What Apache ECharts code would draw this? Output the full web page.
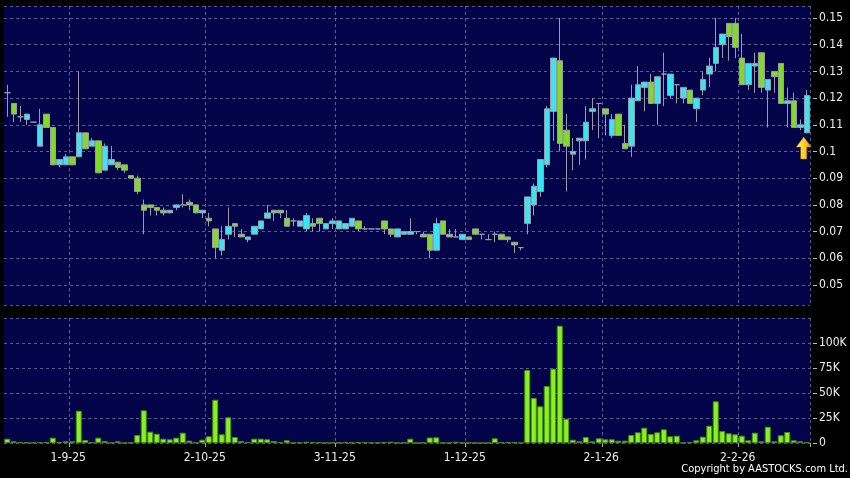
<!DOCTYPE html>
<html>
<head>
<meta charset="utf-8">
<script src="https://cdn.jsdelivr.net/npm/echarts@6/dist/echarts.min.js"></script>
<style>
  html, body { margin: 0; padding: 0; background: #000; }
  #chart { width: 850px; height: 478px; }
</style>
</head>
<body>
<div id="chart"></div>
<script>
// trading days, d-m-yy
const dates = [
  "18-8-25","19-8-25","20-8-25","21-8-25","22-8-25","25-8-25","26-8-25","27-8-25","28-8-25","29-8-25",
  "1-9-25","2-9-25","3-9-25","4-9-25","5-9-25","8-9-25","9-9-25","10-9-25","11-9-25","12-9-25",
  "15-9-25","16-9-25","17-9-25","18-9-25","19-9-25","22-9-25","23-9-25","25-9-25","26-9-25","29-9-25","30-9-25",
  "2-10-25","3-10-25","6-10-25","8-10-25","9-10-25","10-10-25","13-10-25","14-10-25","15-10-25","16-10-25",
  "17-10-25","20-10-25","21-10-25","22-10-25","23-10-25","24-10-25","27-10-25","28-10-25","30-10-25","31-10-25",
  "3-11-25","4-11-25","5-11-25","6-11-25","7-11-25","10-11-25","11-11-25","12-11-25","13-11-25","14-11-25",
  "17-11-25","18-11-25","19-11-25","20-11-25","21-11-25","24-11-25","25-11-25","26-11-25","27-11-25","28-11-25",
  "1-12-25","2-12-25","3-12-25","4-12-25","5-12-25","8-12-25","9-12-25","10-12-25","11-12-25","12-12-25",
  "15-12-25","16-12-25","17-12-25","18-12-25","19-12-25","22-12-25","23-12-25","24-12-25","29-12-25","30-12-25","31-12-25",
  "2-1-26","5-1-26","6-1-26","7-1-26","8-1-26","9-1-26","12-1-26","13-1-26","14-1-26","15-1-26",
  "16-1-26","19-1-26","20-1-26","21-1-26","22-1-26","23-1-26","26-1-26","27-1-26","28-1-26","29-1-26","30-1-26",
  "2-2-26","3-2-26","4-2-26","5-2-26","6-2-26","9-2-26","10-2-26","11-2-26","12-2-26","13-2-26","16-2-26"
];

const opens = [
  .122,.118,.113,.112,.111,.102,.114,.109,.095,.095,
  .098,.098,.107,.102,.104,.093,.095,.096,.095,.091,
  .090,.080,.080,.079,.078,.077,.079,.080,.081,.080,
  .077,.075,.071,.063,.069,.073,.069,.067,.069,.071,
  .075,.078,.078,.075,.074,.072,.071,.073,.075,.071,
  .073,.071,.071,.072,.074,.071,.071,.071,.074,.071,
  .068,.069,.069,.070,.069,.069,.063,.074,.069,.068,
  .067,.068,.071,.069,.067,.069,.069,.068,.066,.064,
  .073,.080,.085,.095,.115,.134,.108,.099,.104,.104,
  .115,.118,.116,.106,.114,.103,.102,.119,.124,.126,
  .118,.129,.121,.125,.120,.123,.116,.123,.129,.133,
  .140,.148,.148,.135,.125,.132,.137,.123,.130,.133,
  .118,.119,.109,.107
];
const closes = [
  .122,.114,.113,.114,.111,.110,.109,.095,.097,.098,
  .095,.107,.101,.104,.092,.102,.097,.094,.093,.090,
  .085,.078,.079,.078,.077,.078,.080,.080,.080,.077,
  .078,.074,.064,.067,.072,.072,.068,.068,.072,.074,
  .077,.077,.077,.072,.074,.074,.076,.072,.073,.073,
  .074,.074,.073,.075,.071,.071,.071,.071,.071,.069,
  .071,.070,.070,.070,.068,.063,.073,.069,.068,.068,
  .069,.067,.069,.069,.067,.069,.067,.067,.065,.064,
  .083,.087,.097,.116,.135,.103,.102,.100,.105,.111,
  .116,.118,.114,.112,.106,.101,.120,.125,.126,.118,
  .128,.129,.129,.125,.124,.118,.120,.127,.132,.139,
  .144,.143,.139,.125,.133,.133,.124,.127,.128,.118,
  .119,.109,.110,.121
];
const highs = [
  .125,.118,.117,.114,.111,.116,.114,.109,.097,.099,
  .098,.130,.107,.105,.104,.103,.102,.096,.095,.091,
  .091,.082,.080,.079,.079,.078,.080,.084,.082,.080,
  .078,.077,.071,.072,.079,.073,.071,.068,.072,.074,
  .080,.078,.078,.078,.075,.074,.077,.075,.075,.073,
  .075,.074,.073,.075,.074,.072,.071,.071,.074,.071,
  .071,.070,.075,.070,.070,.069,.075,.074,.071,.071,
  .069,.068,.071,.069,.069,.070,.069,.068,.066,.064,
  .083,.088,.097,.117,.135,.150,.114,.105,.105,.117,
  .120,.118,.116,.114,.114,.110,.125,.132,.126,.129,
  .128,.137,.129,.125,.124,.123,.120,.130,.135,.150,
  .144,.148,.150,.144,.133,.137,.137,.127,.130,.133,
  .124,.122,.112,.123
];
const lows = [
  .113,.111,.111,.110,.111,.102,.109,.095,.094,.095,
  .095,.098,.101,.102,.092,.093,.095,.093,.092,.090,
  .084,.069,.076,.076,.076,.077,.078,.079,.078,.077,
  .075,.072,.060,.061,.067,.068,.068,.066,.069,.071,
  .075,.074,.075,.072,.072,.072,.070,.070,.070,.071,
  .071,.071,.071,.072,.070,.071,.071,.071,.069,.068,
  .068,.069,.069,.069,.068,.060,.063,.069,.068,.068,
  .067,.067,.069,.067,.067,.066,.067,.066,.062,.063,
  .069,.076,.083,.094,.104,.100,.085,.093,.095,.097,
  .108,.105,.106,.105,.106,.101,.098,.119,.115,.118,
  .110,.117,.120,.118,.118,.118,.111,.121,.124,.130,
  .135,.134,.135,.125,.123,.122,.122,.109,.122,.118,
  .109,.109,.108,.107
];
// volume in thousands of shares
const volumesK = [
  4.3,1.7,0.7,0.3,0.3,0.7,0.7,5.3,0.7,1.7,
  1.7,32.3,3,0.7,5.3,2,0.3,1.7,0.1,0.3,
  8,32.7,11.3,9.3,4.3,3.7,5.3,10.3,2.3,0.3,
  3.3,6.7,43.3,8.7,25.7,6,2,1,4.3,4.3,
  3.7,2,1,2.7,0.1,0.3,1.3,0.7,0.7,0.3,
  0.3,0.2,0.7,0.3,0.7,0.7,0.3,0.3,0.7,1.3,
  0.1,0.3,4.3,0.1,0.3,5.5,5.7,0.1,0.1,1.3,
  0.1,0.3,0.1,0.1,0.1,4.7,0.7,0.7,0.7,0.1,
  73,45,36.7,57,74.3,117.3,24.3,3.3,1.7,6,
  1.7,4.7,3.7,3.7,2.3,2.3,8,10.7,15.3,9,
  10.7,13.7,6.7,7.3,0.1,0.7,2.7,6.3,17.3,41.7,
  12,9.7,8.7,7.3,2.7,10.3,1.7,16.3,1.7,7.7,
  11,2.7,1.7,0.7
];
const arrowPrice = 0.1013; // yellow marker under the last candle

var candles = dates.map(function (d, i) {
  return [opens[i], closes[i], lows[i], highs[i]];
});

// first trading day of each month gets a grid line and a label
function monthStart(i) {
  return i > 0 && dates[i].split("-")[1] !== dates[i - 1].split("-")[1];
}

var font = "'DejaVu Sans Condensed', 'DejaVu Sans', sans-serif";
var dash = { color: "rgba(150,150,200,0.6)", type: [3, 3], width: 1 };
var gridV = { show: true, interval: monthStart, lineStyle: dash };

var chart = echarts.init(document.getElementById("chart"));
chart.setOption({
  backgroundColor: "#000",
  animation: false,
  title: {
    text: "Copyright by AASTOCKS.com Ltd.",
    right: 2,
    top: 464,
    padding: 0,
    textStyle: { color: "#fff", fontSize: 11, fontWeight: "normal", fontFamily: font },
  },
  grid: [
    { left: 4, right: 40, top: 6, height: 299, show: true, backgroundColor: "#030349", borderWidth: 0 },
    { left: 4, right: 40, top: 318, height: 125, show: true, backgroundColor: "#030349", borderWidth: 0 },
  ],
  xAxis: [
    {
      type: "category",
      gridIndex: 0,
      data: dates,
      axisLine: { show: false },
      axisTick: { show: false },
      axisLabel: { show: false },
      splitLine: gridV,
    },
    {
      type: "category",
      gridIndex: 1,
      data: dates,
      axisLine: { show: false },
      axisTick: { show: true, interval: monthStart, length: 4, lineStyle: { color: "#aaa" } },
      axisLabel: {
        interval: monthStart,
        color: "#eee",
        fontSize: 12,
        fontFamily: font,
        margin: 9,
        padding: [0, 8, 0, 0],
      },
      splitLine: gridV,
    },
  ],
  yAxis: [
    {
      type: "value",
      gridIndex: 0,
      position: "right",
      min: 0.0425,
      max: 0.1545,
      splitNumber: 11,
      offset: 3,
      axisLine: { show: false },
      axisTick: { show: true, length: 4, lineStyle: { color: "#bbb" } },
      axisLabel: { color: "#eee", fontSize: 12, fontFamily: font, margin: 6, showMinLabel: false, showMaxLabel: false },
      splitLine: { show: true, lineStyle: dash },
    },
    {
      type: "value",
      gridIndex: 1,
      position: "right",
      min: 0,
      max: 125,
      interval: 25,
      offset: 3,
      axisLine: { show: false },
      axisTick: { show: true, length: 4, lineStyle: { color: "#bbb" } },
      axisLabel: {
        color: "#eee",
        fontSize: 12,
        fontFamily: font,
        margin: 6,
        showMaxLabel: false,
        formatter: function (v) {
          return v === 0 ? "0" : v + "K";
        },
      },
      splitLine: { show: true, lineStyle: dash },
    },
  ],
  series: [
    {
      name: "價格",
      type: "candlestick",
      xAxisIndex: 0,
      yAxisIndex: 0,
      data: candles,
      barWidth: 6,
      itemStyle: {
        color: "#38e6f0",
        color0: "#80dc22",
        borderColor: "#9a9aa8",
        borderColor0: "#9a9aa8",
        borderColorDoji: "#9a9aa8",
        borderWidth: 1,
      },
      markPoint: {
        symbol: "path://M7.5,0 L15,10 L10.5,10 L10.5,22 L4.5,22 L4.5,10 L0,10 Z",
        symbolSize: [15, 22],
        symbolOffset: [-3, 0],
        label: { show: false },
        itemStyle: {
          color: new echarts.graphic.LinearGradient(0, 0, 1, 0, [
            { offset: 0, color: "#fff0a0" },
            { offset: 0.5, color: "#ffd020" },
            { offset: 1, color: "#e09a00" },
          ]),
          borderColor: "#b07800",
          borderWidth: 0.5,
        },
        data: [{ coord: [dates[dates.length - 1], arrowPrice] }],
      },
    },
    {
      name: "成交量",
      type: "bar",
      xAxisIndex: 1,
      yAxisIndex: 1,
      data: volumesK,
      barWidth: 6,
      itemStyle: { color: "#86f31e", borderColor: "#4c8c14", borderWidth: 1 },
    },
  ],
});
</script>
</body>
</html>
